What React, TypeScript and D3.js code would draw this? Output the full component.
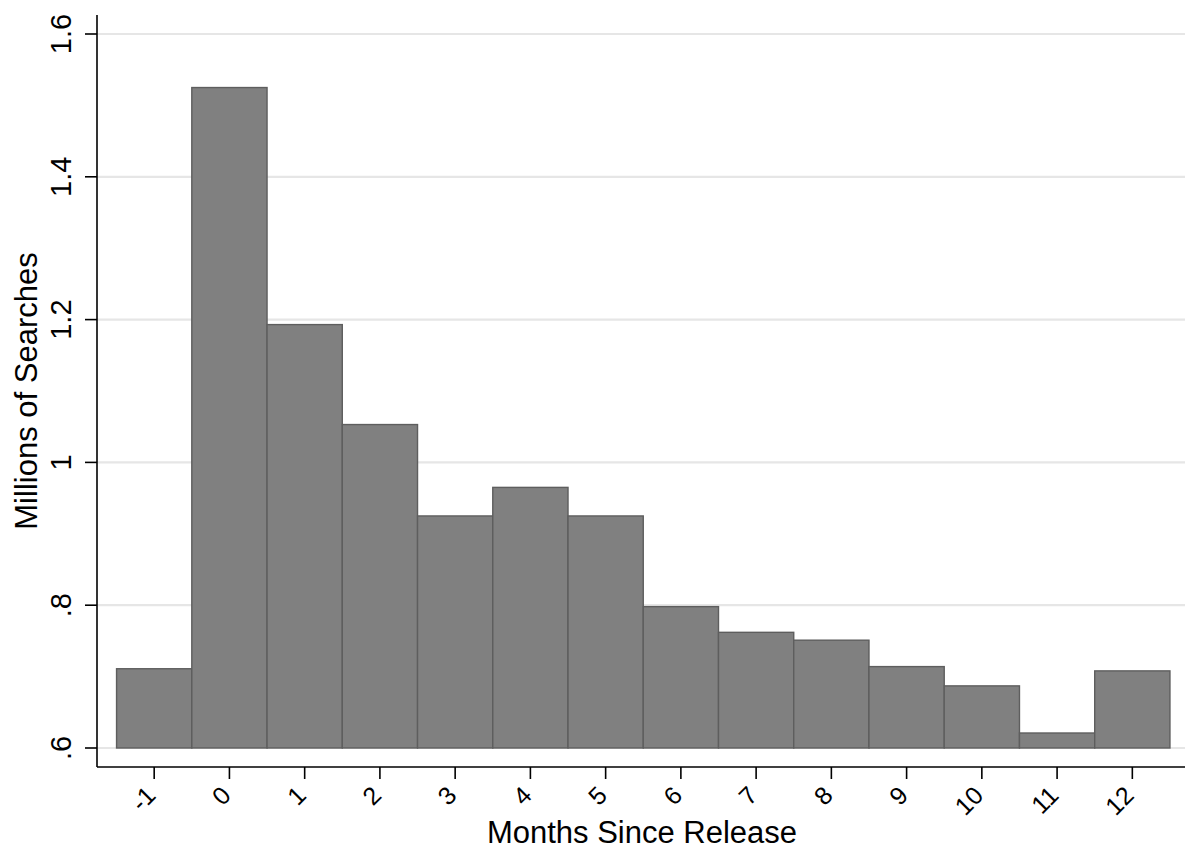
import React from "react";
import * as d3 from "d3";

const months = [-1, 0, 1, 2, 3, 4, 5, 6, 7, 8, 9, 10, 11, 12];
const searches = [0.711, 1.525, 1.193, 1.053, 0.925, 0.965, 0.925, 0.798, 0.762, 0.751, 0.714, 0.687, 0.621, 0.708];
const yTicks = [0.6, 0.8, 1.0, 1.2, 1.4, 1.6];
const yTickLabels = [".6", ".8", "1", "1.2", "1.4", "1.6"];
const xTitle = "Months Since Release";
const yTitle = "Millions of Searches";

const W = 1185;
const H = 854;
const FONT = "'Liberation Sans', Arial, Helvetica, sans-serif";

export default function App() {
  const x = d3.scaleLinear().domain([-1.76, 12.7]).range([97, 1185]);
  const y = d3.scaleLinear().domain([0.6, 1.6]).range([748, 34]);
  const yTop = y(1.6266);
  const yBot = y(0.5734);
  const base = 0.6;

  return (
    <svg
      width={W}
      height={H}
      style={{ position: "absolute", left: 0, top: 0, background: "#fff" }}
      fontFamily={FONT}
    >
      <rect x={0} y={0} width={W} height={H} fill="#ffffff" />
      {yTicks.map((t) => (
        <line key={"g" + t} x1={x(-1.76)} x2={x(12.7)} y1={y(t)} y2={y(t)} stroke="#e6e6e6" strokeWidth={2.2} />
      ))}
      {months.map((m, i) => (
        <rect
          key={"b" + m}
          x={x(m - 0.5)}
          y={y(searches[i])}
          width={x(m + 0.5) - x(m - 0.5)}
          height={y(base) - y(searches[i])}
          fill="#808080"
          stroke="#5e5e5e"
          strokeWidth={1.4}
        />
      ))}
      <line x1={97} x2={97} y1={yTop} y2={yBot} stroke="#000" strokeWidth={1.6} />
      {yTicks.map((t, i) => (
        <g key={"yt" + t}>
          <line x1={85} x2={97} y1={y(t)} y2={y(t)} stroke="#000" strokeWidth={1.6} />
          <text
            transform={`translate(71,${y(t)}) rotate(-90)`}
            textAnchor="middle"
            fontSize={29}
            fill="#000"
          >
            {yTickLabels[i]}
          </text>
        </g>
      ))}
      <line x1={x(-1.76)} x2={x(12.7)} y1={yBot} y2={yBot} stroke="#000" strokeWidth={1.6} />
      {months.map((m) => (
        <g key={"xt" + m}>
          <line x1={x(m)} x2={x(m)} y1={yBot} y2={yBot + 12} stroke="#000" strokeWidth={1.6} />
          <text
            transform={`translate(${x(m) + 3},${yBot + 30}) rotate(-45)`}
            textAnchor="end"
            fontSize={25}
            fill="#000"
          >
            {String(m)}
          </text>
        </g>
      ))}
      <text x={(x(-1.76) + x(12.7)) / 2 + 1} y={843} textAnchor="middle" fontSize={31} fill="#000">
        {xTitle}
      </text>
      <text transform={`translate(37,${(yTop + yBot) / 2}) rotate(-90)`} textAnchor="middle" fontSize={31} fill="#000">
        {yTitle}
      </text>
    </svg>
  );
}
